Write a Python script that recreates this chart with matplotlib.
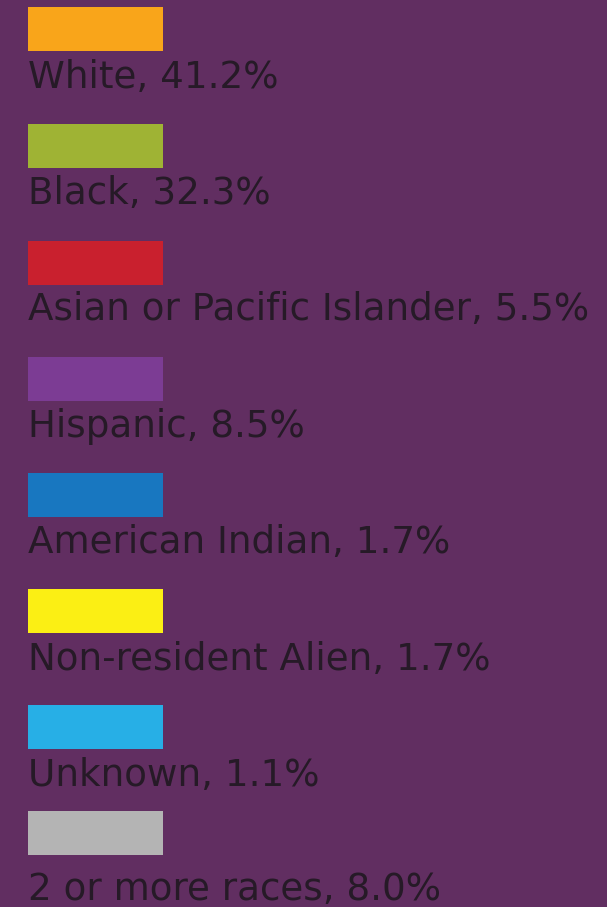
import matplotlib.pyplot as plt

# legend entries
groups = ['White', 'Black', 'Asian or Pacific Islander', 'Hispanic',
          'American Indian', 'Non-resident Alien', 'Unknown', '2 or more races']
shares = [41.2, 32.3, 5.5, 8.5, 1.7, 1.7, 1.1, 8.0]
colors = ['#f9a51a', '#9fb334', '#c9202e', '#7c3c94',
          '#1877c0', '#fbef14', '#27afe6', '#b4b4b4']

bg = '#612e61'
W, H = 607, 907

fig = plt.figure(figsize=(W / 100, H / 100), dpi=100, facecolor=bg)
ax = fig.add_axes([0, 0, 1, 1])
ax.set_facecolor(bg)
ax.set_xlim(0, W)
ax.set_ylim(H, 0)
ax.axis('off')

# row layout in pixels (last row sits a bit tighter)
row_top = [7, 124, 241, 357, 473, 589, 705, 811]
baseline = [88, 204, 320, 437, 553, 670, 786, 900]
sw_h = 44
sw_x, sw_w = 28, 135

for i, (g, s, c) in enumerate(zip(groups, shares, colors)):
    top = row_top[i]
    ax.barh(top + sw_h / 2, sw_w, height=sw_h, left=sw_x, color=c,
            edgecolor='none')
    ax.text(sw_x, baseline[i], f'{g}, {s:.1f}%', fontsize=26.8,
            family='DejaVu Sans', color='#261a27', va='baseline', ha='left')

fig.savefig('out.png', dpi=100, facecolor=bg)
